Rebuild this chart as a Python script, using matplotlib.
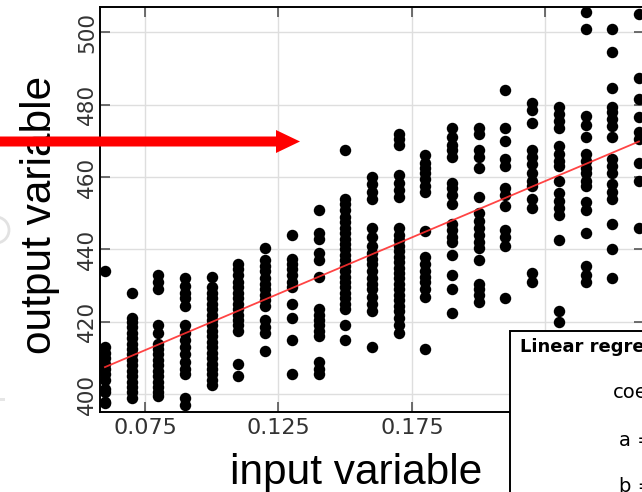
import numpy as np
import matplotlib
matplotlib.use("Agg")
import matplotlib.pyplot as plt
from matplotlib.patches import Polygon, Rectangle, Circle

# ---------------- data ----------------
x_levels = [0.06, 0.07, 0.08, 0.09, 0.10, 0.11, 0.12, 0.13, 0.14, 0.15, 0.16,
            0.17, 0.18, 0.19, 0.20, 0.21, 0.22, 0.23, 0.24, 0.25, 0.26]

col_060 = [434, 413, 411.5, 410, 408.5, 407, 405.5, 404, 401.5, 400.5, 398, 397.5]
col_070 = [428, 421, 420, 418.5, 417, 415.5, 414, 412.5, 411, 409.5, 408, 406.5, 405, 403.5, 402, 400.5, 399]
col_080 = [433, 431, 429, 419, 417, 414, 412.5, 411, 409.5, 408, 406.5, 405, 403.5, 402, 400.5, 399.5]
col_090 = [432, 430, 428, 426.5, 424.5, 419, 417, 415, 413, 411, 409, 407, 405.5, 399, 397]
col_100 = [432.5, 429.5, 428, 426.5, 425, 423.5, 422, 420.5, 419, 417.5, 416, 414.5, 413, 411.5, 410, 408.5, 407, 405.5, 404, 402.5]
col_110 = [436, 434.5, 433, 431, 429.5, 428, 426.5, 425, 423.5, 422, 420.5, 419, 417.5, 408.5, 405]
col_120 = [440.5, 437, 435.5, 434, 432, 430.5, 429, 427.5, 426, 424.5, 420.5, 418.5, 417, 412]
col_130 = [444, 437.5, 436, 434.5, 433, 431, 429.5, 425, 421, 415, 405.5]
col_140 = [451, 444.5, 443, 439, 437, 432.5, 423.5, 422, 420.5, 419, 417.5, 416, 409, 407, 405.5]
col_150 = [467.5, 454, 452.5, 451, 449, 447.5, 446, 444.5, 443, 441.5, 440, 438.5, 437, 435.5, 434,
           432.5, 431, 429.5, 428, 426.5, 425, 423.5, 419, 415]
col_160 = [460, 458, 456, 454, 446, 443.5, 441, 439, 437.5, 436, 434, 432, 430.5, 429, 427, 425, 423, 413]
col_170 = [472, 470.5, 469, 460.5, 458.5, 456.5, 454.5, 446, 444, 442.5, 441, 439.5, 438, 436.5, 435,
           433.5, 432, 430.5, 429, 427.5, 426, 424.5, 423, 421, 419, 417]
col_180 = [466, 464, 462.5, 461, 459.5, 457.5, 456, 445, 438, 436, 434, 432.5, 431, 429, 427, 412.5]
col_190 = [473.5, 471, 469, 467.5, 465.5, 458.5, 457, 455, 452.5, 447, 445.5, 443.5, 442, 438.5, 433, 429, 422.5]
col_200 = [473.5, 472, 467.5, 465.5, 462.5, 454.5, 450, 448, 446, 444, 442, 440.5, 437, 430.5, 429, 427.5, 425.5]
col_210 = [484, 473.5, 470, 465, 463, 457, 455, 452, 445.5, 443.5, 441, 426.5]
col_220 = [480.5, 478.5, 475, 467.5, 465.5, 463.5, 461, 459, 457.5, 454, 451.5, 433.5, 431]
col_230 = [479.5, 477.5, 475.5, 473.5, 468.5, 466.5, 464.5, 463, 459, 455.5, 453.5, 451.5, 449.5, 442.5, 423, 420]
col_240 = [505.5, 501, 477, 474.5, 471, 466.5, 464.5, 462.5, 461, 459, 457.5, 453, 451, 444.5, 435.5, 433, 431]
col_250 = [501, 494.5, 484.5, 479.5, 478, 476, 474, 471, 465, 463, 461, 458, 456, 454, 447, 440, 432]
col_260 = [505, 487.5, 481.5, 476.5, 472.5, 470.5, 464, 459, 446]

columns = [col_060, col_070, col_080, col_090, col_100, col_110, col_120, col_130, col_140,
           col_150, col_160, col_170, col_180, col_190, col_200, col_210, col_220, col_230,
           col_240, col_250, col_260]

reg_a = 388.8   # intercept
reg_b = 311.7   # slope

x_ticks = [0.075, 0.125, 0.175, 0.225]
x_ticklabels = ["0.075", "0.125", "0.175", "0.225"]
y_ticks = [400, 420, 440, 460, 480, 500]
y_ticklabels = ["400", "420", "440", "460", "480", "500"]

x_label = "input variable"
y_label = "output variable"
box_title = "Linear regression"
box_sub = "coefficients:"

# ---------------- figure ----------------
W, H = 642, 492
fig = plt.figure(figsize=(W / 100, H / 100), dpi=100)

def fx(px):
    return px / W

def fy(py):
    return 1 - py / H

ax = fig.add_axes([fx(100), fy(412), (644 - 100) / W, (412 - 7) / H])

xs = np.concatenate([[xv] * len(c) for xv, c in zip(x_levels, columns)])
ys = np.concatenate([np.asarray(c, float) for c in columns])
ax.scatter(xs, ys, s=68, c="black", linewidths=0, zorder=3)

xl = np.array([x_levels[0], x_levels[-1]])
ax.plot(xl, reg_a + reg_b * xl, color="#ff3030", lw=1.3, alpha=0.9, zorder=4)

ax.set_xlim(0.05815, 0.2619)
ax.set_ylim(395.1, 507.0)
ax.set_xticks(x_ticks)
ax.set_xticklabels(x_ticklabels)
ax.set_yticks(y_ticks)
ax.set_yticklabels(y_ticklabels, rotation=90, va="center")
ax.grid(True, color="#dedede", lw=1.0, zorder=0)
ax.set_axisbelow(True)
ax.tick_params(axis="both", direction="in", length=7, width=1.2, color="#555555",
               top=True, right=True)
ax.tick_params(axis="x", labelsize=16, labelcolor="#333333", pad=4.5)
ax.tick_params(axis="y", labelsize=15.5, labelcolor="#333333", pad=2.0)
for lab in ax.get_xticklabels() + ax.get_yticklabels():
    lab.set_family("DejaVu Sans")
for sp in ax.spines.values():
    sp.set_color("black")
    sp.set_linewidth(1.4)

# big axis labels (overlaid text)
fig.text(fx(356), fy(484), x_label, ha="center", va="baseline",
         family="Liberation Sans", fontsize=30.5, color="black")
fig.text(fx(51), fy(215), y_label, ha="center", va="baseline", rotation=90,
         rotation_mode="anchor", family="Liberation Sans", fontsize=30.5, color="black")

# red arrow (pixel-based inches transform)
t = fig.dpi_scale_trans
cy = (H - 141.5) / 100
arrow = Polygon([[-0.1, cy - 0.05], [2.76, cy - 0.05], [2.76, cy - 0.115], [3.00, cy],
                 [2.76, cy + 0.115], [2.76, cy + 0.05], [-0.1, cy + 0.05]],
                closed=True, transform=t, facecolor="#ff0000", edgecolor="none", zorder=10)
fig.add_artist(arrow)

# faint decorations at left edge
fig.add_artist(Circle((-0.04, (H - 230) / 100), 0.13, transform=t, facecolor="none",
                      edgecolor="#e2e2e2", lw=2))
fig.add_artist(Rectangle((0, (H - 401) / 100), 0.05, 0.03, transform=t,
                         facecolor="#e6e6e6", edgecolor="none"))

# regression info box
fig.add_artist(Rectangle((510 / 100, (H - 540) / 100), 2.0, (540 - 331) / 100, transform=t,
                         facecolor="white", edgecolor="black", lw=1.4, zorder=11))
fig.text(fx(520), fy(347), box_title, ha="left", va="center", fontsize=13,
         fontweight="bold", family="DejaVu Sans", zorder=12)
fig.text(fx(613), fy(393), box_sub, ha="left", va="center", fontsize=14,
         family="DejaVu Sans", zorder=12)
fig.text(fx(619), fy(440), f"a = {reg_a}", ha="left", va="center", fontsize=14,
         family="DejaVu Sans", zorder=12)
fig.text(fx(619), fy(486), f"b = {reg_b}", ha="left", va="center", fontsize=14,
         family="DejaVu Sans", zorder=12)

fig.savefig("out.png", dpi=100)
